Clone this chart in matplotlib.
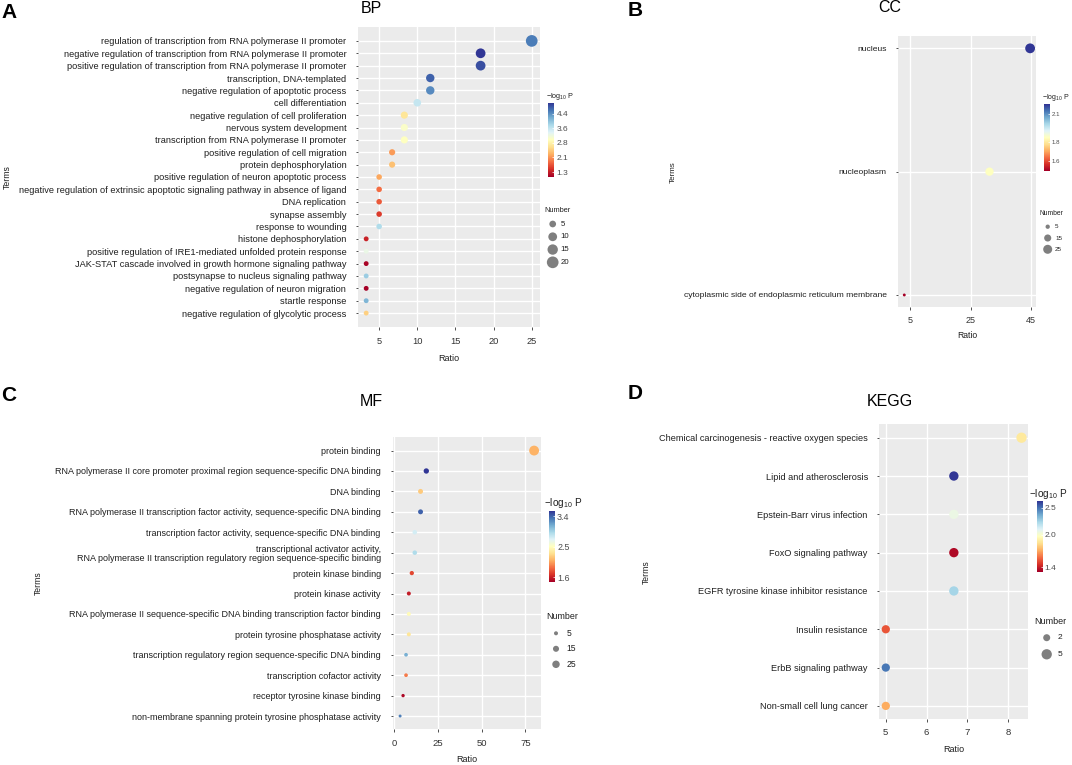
import numpy as np
import matplotlib
matplotlib.use("Agg")
import matplotlib.pyplot as plt
from matplotlib.colors import Normalize
from matplotlib.cm import ScalarMappable

plt.rcParams["font.family"] = ["Liberation Sans", "DejaVu Sans"]
plt.rcParams["mathtext.fontset"] = "custom"
plt.rcParams["mathtext.rm"] = "Liberation Sans"
plt.rcParams["mathtext.it"] = "Liberation Sans:italic"
plt.rcParams["mathtext.bf"] = "Liberation Sans:bold"

# ---- BP ----
bp_terms = [
    "regulation of transcription from RNA polymerase II promoter",
    "negative regulation of transcription from RNA polymerase II promoter",
    "positive regulation of transcription from RNA polymerase II promoter",
    "transcription, DNA-templated",
    "negative regulation of apoptotic process",
    "cell differentiation",
    "negative regulation of cell proliferation",
    "nervous system development",
    "transcription from RNA polymerase II promoter",
    "positive regulation of cell migration",
    "protein dephosphorylation",
    "positive regulation of neuron apoptotic process",
    "negative regulation of extrinsic apoptotic signaling pathway in absence of ligand",
    "DNA replication",
    "synapse assembly",
    "response to wounding",
    "histone dephosphorylation",
    "positive regulation of IRE1-mediated unfolded protein response",
    "JAK-STAT cascade involved in growth hormone signaling pathway",
    "postsynapse to nucleus signaling pathway",
    "negative regulation of neuron migration",
    "startle response",
    "negative regulation of glycolytic process",
]
bp_ratio = [25.0, 18.3, 18.3, 11.7, 11.7, 10.0, 8.3, 8.3, 8.3, 6.7, 6.7,
            5.0, 5.0, 5.0, 5.0, 5.0, 3.3, 3.3, 3.3, 3.3, 3.3, 3.3, 3.3]
bp_number = [20, 13, 13, 9, 9, 7, 6, 6, 6, 4, 4, 3, 3, 3, 3, 3, 2, 2, 2, 2, 2, 2, 2]
bp_logp = [4.55, 5.0, 4.84, 4.72, 4.45, 3.62, 2.71, 3.10, 3.03, 2.12, 2.39, 2.20,
           1.84, 1.72, 1.52, 3.78, 1.33, 3.30, 1.09, 3.93, 1.05, 4.13, 2.51]

# ---- CC ----
cc_terms = ["nucleus", "nucleoplasm", "cytoplasmic side of endoplasmic reticulum membrane"]
cc_ratio = [44.8, 31.3, 3.0]
cc_number = [30, 21, 2]
cc_logp = [2.20, 1.85, 1.50]

# ---- MF ----
mf_terms = [
    "protein binding",
    "RNA polymerase II core promoter proximal region sequence-specific DNA binding",
    "DNA binding",
    "RNA polymerase II transcription factor activity, sequence-specific DNA binding",
    "transcription factor activity, sequence-specific DNA binding",
    "transcriptional activator activity,\nRNA polymerase II transcription regulatory region sequence-specific binding",
    "protein kinase binding",
    "protein kinase activity",
    "RNA polymerase II sequence-specific DNA binding transcription factor binding",
    "protein tyrosine phosphatase activity",
    "transcription regulatory region sequence-specific DNA binding",
    "transcription cofactor activity",
    "receptor tyrosine kinase binding",
    "non-membrane spanning protein tyrosine phosphatase activity",
]
mf_ratio = [80.0, 18.3, 15.0, 15.0, 11.7, 11.7, 10.0, 8.3, 8.3, 8.3, 6.7, 6.7, 5.0, 3.3]
mf_number = [48, 11, 9, 9, 7, 7, 6, 5, 5, 5, 4, 4, 3, 2]
mf_logp = [2.11, 3.55, 2.21, 3.40, 2.76, 2.90, 1.75, 1.59, 2.48, 2.34, 3.11, 1.92, 1.50, 3.30]

# ---- KEGG ----
kegg_terms = [
    "Chemical carcinogenesis - reactive oxygen species",
    "Lipid and atherosclerosis",
    "Epstein-Barr virus infection",
    "FoxO signaling pathway",
    "EGFR tyrosine kinase inhibitor resistance",
    "Insulin resistance",
    "ErbB signaling pathway",
    "Non-small cell lung cancer",
]
kegg_ratio = [8.33, 6.67, 6.67, 6.67, 6.67, 5.0, 5.0, 5.0]
kegg_number = [5, 4, 4, 4, 4, 3, 3, 3]
kegg_logp = [1.88, 2.63, 2.06, 1.35, 2.25, 1.53, 2.49, 1.71]

W, H = 1072, 765
fig = plt.figure(figsize=(W / 100, H / 100), dpi=100)
cmap = plt.get_cmap("RdYlBu")
DARK = "#1f1f1f"
GREY = "#4d4d4d"


def box(x0, y0, x1, y1):
    # pixel box (top-left origin) -> figure fraction rect
    return [x0 / W, 1 - y1 / H, (x1 - x0) / W, (y1 - y0) / H]


def ftext(x, y, s, **kw):
    fig.text(x / W, 1 - y / H, s, **kw)


def dot_area(number, a, b):
    d = a + b * np.sqrt(np.asarray(number, dtype=float))  # diameter in px
    return (d * 0.72) ** 2


def bubble_panel(panel, terms, ratio, number, logp, norm, size_ab, xticks,
                 fs_y, fs_x, pad_y, pad_x):
    ax = fig.add_axes(box(*panel))
    ax.set_facecolor("#EBEBEB")
    rows = np.arange(len(terms))
    ax.scatter(ratio, rows, s=dot_area(number, *size_ab), c=logp, cmap=cmap,
               norm=norm, linewidths=0, zorder=3)
    lo, hi = min(ratio), max(ratio)
    ax.set_xlim(lo - 0.05 * (hi - lo), hi + 0.05 * (hi - lo))
    span = len(terms) - 1
    ax.set_ylim(span * 1.05, -span * 0.05)
    ax.set_yticks(rows, terms, fontsize=fs_y, color=DARK)
    ax.set_xticks(xticks, [str(t) for t in xticks], fontsize=fs_x, color="#333333")
    for lbl in ax.get_yticklabels():
        lbl.set_linespacing(1.0)
    ax.grid(True, color="white", linewidth=1.0)
    ax.set_axisbelow(True)
    for sp in ax.spines.values():
        sp.set_visible(False)
    ax.tick_params(axis="y", length=1.8, width=0.6, color="#333333", pad=pad_y)
    ax.tick_params(axis="x", length=1.8, width=0.6, color="#333333", pad=pad_x)
    return ax


def colorbar(cbox, norm, ticks, labels, title_xy, fs_title, fs_tick):
    cax = fig.add_axes(box(*cbox))
    cb = fig.colorbar(ScalarMappable(norm=norm, cmap=cmap), cax=cax)
    cb.outline.set_visible(False)
    cb.set_ticks(ticks, labels=labels)
    cax.tick_params(direction="in", length=1.5, width=0.5, color="white",
                    pad=1.5, labelsize=fs_tick, labelcolor=GREY)
    ftext(title_xy[0], title_xy[1], r"$-\mathregular{log}_{10}$ P", fontsize=fs_title,
          ha="left", va="center", color=DARK)


def size_legend(x_title, y_title, y_first, pitch, cx, lx, breaks, size_ab, fs_title, fs_lab):
    k = len(breaks)
    lax = fig.add_axes(box(x_title, y_first - pitch / 2, x_title + 40, y_first + (k - 0.5) * pitch))
    lax.set_xlim(0, 40)
    lax.set_ylim(k - 0.5, -0.5)
    lax.axis("off")
    idx = np.arange(k)
    lax.scatter(np.full(k, cx - x_title), idx, s=dot_area(breaks, *size_ab),
                color="#7f7f7f", linewidths=0, clip_on=False)
    for i, b in enumerate(breaks):
        lax.text(lx - x_title, i, str(b), fontsize=fs_lab, ha="left", va="center", color=DARK)
    ftext(x_title, y_title, "Number", fontsize=fs_title, ha="left", va="center", color=DARK)


# ---------------- A: BP ----------------
bp_norm = Normalize(1.05, 5.0)
bubble_panel((357.9, 27.3, 540, 326.7), bp_terms, bp_ratio, bp_number, bp_logp,
             bp_norm, (1.7, 2.236), [5, 10, 15, 20, 25], 6.7, 6.7, 6.5, 5.8)
colorbar((547.7, 102.7, 554.3, 176.7), bp_norm, [1.3, 2.075, 2.85, 3.625, 4.4],
         ["1.3", "2.1", "2.8", "3.6", "4.4"], (546, 96), 5.2, 6.0)
size_legend(544, 210, 224, 12.77, 552.7, 560.7, [5, 10, 15, 20], (1.7, 2.236), 5.3, 5.6)
ftext(7, 177, "Terms", fontsize=6.3, rotation=90, ha="center", va="center", color=DARK)
ftext(449, 358.3, "Ratio", fontsize=6.5, ha="center", va="center", color=DARK)
ftext(371.7, 8.5, "BP", fontsize=11.5, ha="center", va="center")
ftext(9, 13, "A", fontsize=15, fontweight="bold", ha="center", va="center")

# ---------------- B: CC ----------------
cc_norm = Normalize(1.5, 2.2)
bubble_panel((898, 36, 1036.4, 307.3), cc_terms, cc_ratio, cc_number, cc_logp,
             cc_norm, (0.5, 1.7), [5, 25, 45], 6.1, 6.5, 6.2, 4.6)
colorbar((1043.7, 104.3, 1049.7, 170.7), cc_norm, [1.6, 1.8, 2.1],
         ["1.6", "1.8", "2.1"], (1042, 97.7), 5.0, 4.4)
size_legend(1040, 213.3, 226.7, 11.3, 1047.7, 1055, [5, 15, 25], (0.5, 1.7), 4.9, 4.5)
ftext(673.5, 172, "Terms", fontsize=5.8, rotation=90, ha="center", va="center", color=DARK)
ftext(967, 336, "Ratio", fontsize=6.2, ha="center", va="center", color=DARK)
ftext(889.5, 8, "CC", fontsize=11.5, ha="center", va="center")
ftext(635, 11, "B", fontsize=15, fontweight="bold", ha="center", va="center")

# ---------------- C: MF ----------------
mf_norm = Normalize(1.46, 3.55)
bubble_panel((393.4, 437.3, 540.8, 729.3), mf_terms, mf_ratio, mf_number, mf_logp,
             mf_norm, (1.2, 1.25), [0, 25, 50, 75], 6.5, 6.8, 7.3, 5.2)
colorbar((549.2, 511, 555, 582), mf_norm, [1.6, 2.5, 3.4],
         ["1.6", "2.5", "3.4"], (544, 503.3), 7.2, 6.4)
size_legend(546, 616.7, 633.3, 15.5, 556, 566.4, [5, 15, 25], (1.2, 1.25), 6.4, 6.2)
ftext(38.3, 583.3, "Terms", fontsize=6.2, rotation=90, ha="center", va="center", color=DARK)
ftext(467, 760, "Ratio", fontsize=6.5, ha="center", va="center", color=DARK)
ftext(371.2, 401.7, "MF", fontsize=11.5, ha="center", va="center")
ftext(8.5, 395, "C", fontsize=15, fontweight="bold", ha="center", va="center")

# ---------------- D: KEGG ----------------
kegg_norm = Normalize(1.32, 2.63)
bubble_panel((879, 424.3, 1028.3, 719.3), kegg_terms, kegg_ratio, kegg_number, kegg_logp,
             kegg_norm, (1.33, 4.01), [5, 6, 7, 8], 6.6, 6.8, 6.3, 4.5)
colorbar((1036.7, 501, 1042.7, 571.5), kegg_norm, [1.4, 2.0, 2.5],
         ["1.4", "2.0", "2.5"], (1029.3, 494), 7.2, 6.0)
size_legend(1034, 621.3, 637.7, 16.6, 1046.7, 1057.3, [2, 5], (1.33, 4.01), 6.5, 6.0)
ftext(646.7, 571.7, "Terms", fontsize=6.2, rotation=90, ha="center", va="center", color=DARK)
ftext(953.7, 749.3, "Ratio", fontsize=6.5, ha="center", va="center", color=DARK)
ftext(890, 401.7, "KEGG", fontsize=11.5, ha="center", va="center")
ftext(635, 394, "D", fontsize=15, fontweight="bold", ha="center", va="center")

fig.savefig("out.png", dpi=100)
